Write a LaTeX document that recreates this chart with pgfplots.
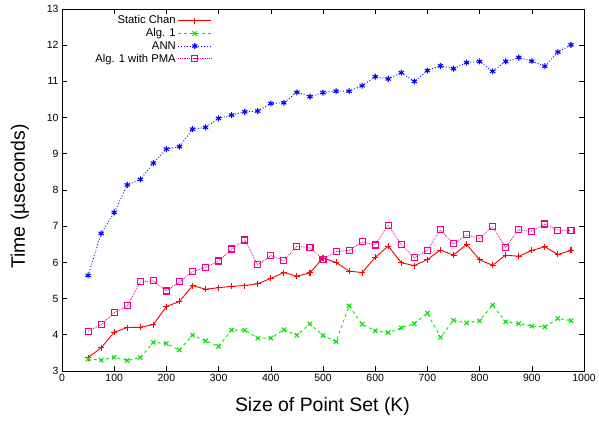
\documentclass[border=0pt]{standalone}
\usepackage{fontspec}
\setmainfont{Liberation Sans}
\usepackage{pgfplots}
\pgfplotsset{compat=1.18}
\begin{document}
\begin{tikzpicture}
\begin{axis}[
  at={(0,0)}, anchor=south west,
  scale only axis, width=522bp, height=362bp,
  xmin=0, xmax=1000, ymin=3, ymax=13,
  xtick={0,100,...,1000}, ytick={3,4,...,13},
  /pgf/number format/assume math mode=true,
  /pgf/number format/1000 sep={},
  tick align=inside, major tick length=5bp,
  tick label style={font=\fontsize{10.5}{12}\selectfont},
  xlabel={Size of Point Set (K)}, ylabel={Time (µseconds)},
  label style={font=\fontsize{19.5}{22}\selectfont},
  xlabel style={at={(axis description cs:0.499,-0.0967)}, anchor=center},
  ylabel style={at={(axis description cs:-0.0805,0.482)}, anchor=center},
  axis line style={line width=0.8bp},
  every tick/.style={line width=0.6bp, black},
  legend plot pos=right,
  legend cell align=right,
  legend style={draw=none, fill=none, at={(rel axis cs:0.289,0.99)}, anchor=north east,
    font=\fontsize{11.3}{12}\selectfont, row sep=-0.8bp, inner sep=1bp},
  legend image code/.code={\draw[mark repeat=2,mark phase=2] plot coordinates {(0bp,0bp)(16.5bp,0bp)(33bp,0bp)};},
]
\addplot[red, solid, line width=0.9bp, mark=+, mark size=3bp, mark options={solid, line width=1.1bp}] coordinates {
(50,3.37)(75,3.64)(100,4.07)(125,4.20)(150,4.21)(175,4.28)(200,4.78)(225,4.92)(250,5.36)(275,5.26)
(300,5.30)(325,5.34)(350,5.36)(375,5.41)(400,5.56)(425,5.72)(450,5.62)(475,5.71)(500,6.12)(525,6.00)
(550,5.76)(575,5.72)(600,6.14)(625,6.45)(650,5.99)(675,5.91)(700,6.08)(725,6.34)(750,6.20)(775,6.50)
(800,6.07)(825,5.92)(850,6.20)(875,6.17)(900,6.33)(925,6.43)(950,6.22)(975,6.33)};
\addlegendentry{Static Chan}
\addplot[color={rgb,255:red,0;green,230;blue,0}, dashed, line width=0.9bp, mark=x, mark size=3bp, mark options={solid, line width=1.1bp}] coordinates {
(50,3.33)(75,3.30)(100,3.38)(125,3.29)(150,3.37)(175,3.79)(200,3.76)(225,3.58)(250,3.99)(275,3.83)
(300,3.68)(325,4.13)(350,4.13)(375,3.91)(400,3.91)(425,4.14)(450,3.99)(475,4.30)(500,3.98)(525,3.81)
(550,4.80)(575,4.29)(600,4.11)(625,4.06)(650,4.19)(675,4.31)(700,4.60)(725,3.93)(750,4.40)(775,4.33)
(800,4.39)(825,4.82)(850,4.36)(875,4.31)(900,4.24)(925,4.22)(950,4.45)(975,4.39)};
\addlegendentry{Alg. 1}
\addplot[blue, dotted, line width=0.9bp, mark=asterisk, mark size=3bp, mark options={solid, line width=1.1bp}] coordinates {
(50,5.64)(75,6.80)(100,7.38)(125,8.14)(150,8.29)(175,8.74)(200,9.13)(225,9.20)(250,9.68)(275,9.73)
(300,9.98)(325,10.07)(350,10.16)(375,10.18)(400,10.39)(425,10.41)(450,10.70)(475,10.58)(500,10.69)(525,10.73)
(550,10.73)(575,10.88)(600,11.13)(625,11.07)(650,11.24)(675,11.00)(700,11.30)(725,11.43)(750,11.35)(775,11.52)
(800,11.55)(825,11.28)(850,11.55)(875,11.66)(900,11.56)(925,11.42)(950,11.81)(975,12.01)};
\addlegendentry{ANN}
\addplot[magenta, densely dotted, line width=0.8bp, mark=square, mark size=3bp, mark options={solid, line width=1.1bp}] coordinates {
(50,4.10)(75,4.28)(100,4.61)(125,4.80)(150,5.46)(175,5.49)(200,5.21)(225,5.46)(250,5.74)(275,5.86)
(300,6.04)(325,6.37)(350,6.62)(375,5.93)(400,6.19)(425,6.05)(450,6.45)(475,6.40)(500,6.09)(525,6.30)
(550,6.33)(575,6.57)(600,6.48)(625,7.03)(650,6.49)(675,6.13)(700,6.34)(725,6.90)(750,6.51)(775,6.76)
(800,6.66)(825,6.99)(850,6.41)(875,6.91)(900,6.86)(925,7.06)(950,6.89)(975,6.88)};
\addlegendentry{Alg. 1 with PMA}
\end{axis}
\pgfresetboundingbox
\path (-62bp,-53bp) rectangle (537bp,371bp);
\end{tikzpicture}
\end{document}
